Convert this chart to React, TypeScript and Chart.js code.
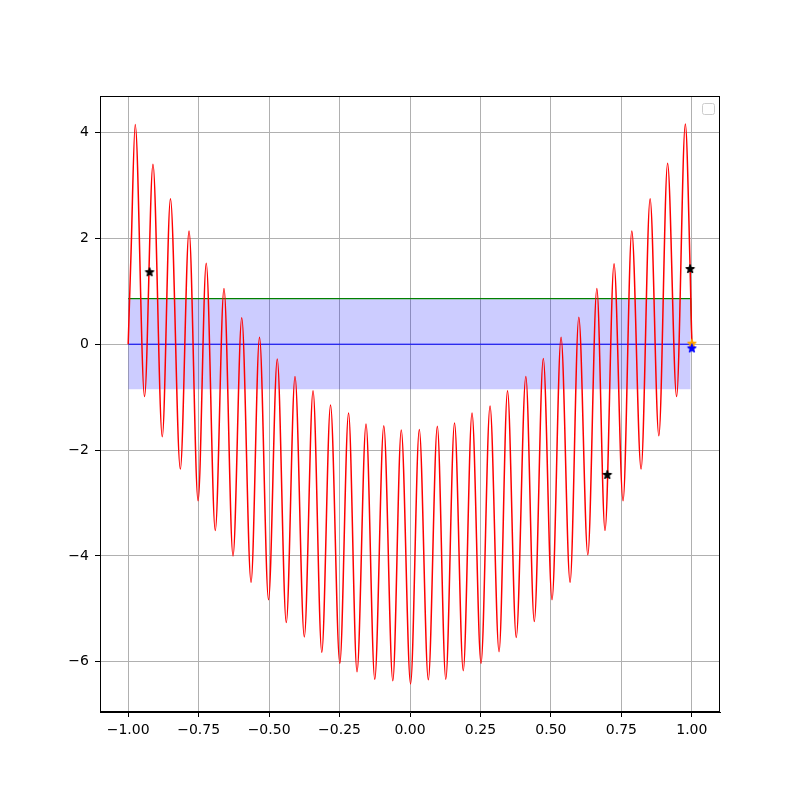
import React, { useEffect, useRef } from "react";
import { Chart, registerables } from "chart.js";
Chart.register(...registerables);

// Red oscillating curve: extrema (plus end points)
const redX = [
  -1.0, -0.99, -0.975, -0.942, -0.912, -0.879, -0.85, -0.815, -0.784, -0.752, -0.723,
  -0.691, -0.66, -0.628, -0.597, -0.564, -0.534, -0.502, -0.471, -0.439, -0.408,
  -0.375, -0.344, -0.313, -0.282, -0.249, -0.218, -0.188, -0.156, -0.125, -0.093,
  -0.061, -0.031, 0.002, 0.033, 0.065, 0.097, 0.127, 0.158, 0.189, 0.22,
  0.252, 0.284, 0.316, 0.346, 0.377, 0.411, 0.441, 0.473, 0.504, 0.536,
  0.568, 0.599, 0.631, 0.663, 0.692, 0.724, 0.756, 0.787, 0.82, 0.852,
  0.883, 0.914, 0.946, 0.977, 0.994, 1.0,
];
const redY = [
  0.0, 1.7, 4.15, -0.99, 3.4, -1.75, 2.75, -2.36, 2.14, -2.96, 1.53,
  -3.52, 1.05, -4.0, 0.5, -4.5, 0.13, -4.83, -0.28, -5.26, -0.61,
  -5.53, -0.88, -5.82, -1.15, -6.03, -1.3, -6.19, -1.51, -6.33, -1.54,
  -6.36, -1.62, -6.42, -1.61, -6.34, -1.55, -6.33, -1.49, -6.17, -1.3,
  -6.03, -1.17, -5.81, -0.88, -5.54, -0.61, -5.24, -0.27, -4.83, 0.13,
  -4.5, 0.51, -3.98, 1.05, -3.52, 1.52, -2.96, 2.14, -2.36, 2.75,
  -1.73, 3.42, -0.99, 4.16, 1.42, 0.0,
];

// Green step line
const greenX = [-1.0, 0.996, 1.0];
const greenY = [0.86, 0.86, 0.0];

// Blue band (fill between)
const bandX = [-1.0, 0.996];
const bandUpper = [0.85, 0.85];
const bandLower = [-0.85, -0.85];

// Blue zero line
const zeroX = [-1.0, 1.0];
const zeroY = [0.0, 0.0];

// Star markers
const blackStarX = [-0.924, 0.7, 0.994];
const blackStarY = [1.36, -2.47, 1.42];
const orangeStarX = [1.0];
const orangeStarY = [0.01];
const blueStarX = [1.0];
const blueStarY = [-0.08];

// Ticks
const xTicks = [-1.0, -0.75, -0.5, -0.25, 0.0, 0.25, 0.5, 0.75, 1.0];
const yTicks = [-6, -4, -2, 0, 2, 4];

const pts = (xs: number[], ys: number[]) => xs.map((x, i) => ({ x, y: ys[i] }));
const fmt = (v: number, d: number) => {
  const s = Number(v).toFixed(d);
  return s.startsWith("-") ? "\u2212" + s.slice(1) : s;
};

function makeStar(color: string): HTMLCanvasElement {
  const c = document.createElement("canvas");
  c.width = 14;
  c.height = 14;
  const g = c.getContext("2d")!;
  const R = 4.17;
  const r = R * 0.381966;
  g.beginPath();
  for (let i = 0; i < 10; i++) {
    const a = -Math.PI / 2 + (i * Math.PI) / 5;
    const rr = i % 2 === 0 ? R : r;
    const px = 7 + rr * Math.cos(a);
    const py = 7 + rr * Math.sin(a);
    if (i === 0) g.moveTo(px, py);
    else g.lineTo(px, py);
  }
  g.closePath();
  g.fillStyle = color;
  g.strokeStyle = color;
  g.lineWidth = 1.39;
  g.lineJoin = "round";
  g.fill();
  g.stroke();
  return c;
}

export default function App() {
  const ref = useRef<HTMLCanvasElement | null>(null);

  useEffect(() => {
    document.body.style.margin = "0";
    const canvas = ref.current;
    if (!canvas) return;

    const allY = [...redY, ...greenY, ...bandUpper, ...bandLower, ...zeroY, ...blackStarY, ...orangeStarY, ...blueStarY];
    const yLo = Math.min(...allY);
    const yHi = Math.max(...allY);
    const yPad = (yHi - yLo) * 0.05;
    const allX = [...redX, ...zeroX];
    const xLo = Math.min(...allX);
    const xHi = Math.max(...allX);
    const xPad = (xHi - xLo) * 0.05;

    const font = { family: "'DejaVu Sans', sans-serif", size: 14 };

    const framePlugin = {
      id: "frame",
      afterDraw(chart: any) {
        const { ctx, chartArea: a } = chart;
        ctx.save();
        ctx.strokeStyle = "black";
        ctx.lineWidth = 1;
        const l = Math.round(a.left) + 0.5;
        const t = Math.round(a.top) + 0.5;
        const r = Math.round(a.right) - 0.5;
        const b = Math.round(a.bottom) - 0.5;
        ctx.strokeRect(l, t, r - l, b - t);
        // empty legend frame (top right)
        const lx = 702.5, ly = 103.5, lw = 12, lh = 11, rad = 2;
        ctx.beginPath();
        ctx.moveTo(lx + rad, ly);
        ctx.lineTo(lx + lw - rad, ly);
        ctx.quadraticCurveTo(lx + lw, ly, lx + lw, ly + rad);
        ctx.lineTo(lx + lw, ly + lh - rad);
        ctx.quadraticCurveTo(lx + lw, ly + lh, lx + lw - rad, ly + lh);
        ctx.lineTo(lx + rad, ly + lh);
        ctx.quadraticCurveTo(lx, ly + lh, lx, ly + lh - rad);
        ctx.lineTo(lx, ly + rad);
        ctx.quadraticCurveTo(lx, ly, lx + rad, ly);
        ctx.closePath();
        ctx.fillStyle = "rgba(255,255,255,0.8)";
        ctx.fill();
        ctx.strokeStyle = "#cccccc";
        ctx.stroke();
        ctx.restore();
      },
    };

    const chart = new Chart(canvas, {
      type: "line",
      data: {
        datasets: [
          {
            data: pts(blueStarX, blueStarY),
            showLine: false,
            pointStyle: makeStar("blue"),
            pointRadius: 4,
            order: 0,
          },
          {
            data: pts(orangeStarX, orangeStarY),
            showLine: false,
            pointStyle: makeStar("orange"),
            pointRadius: 4,
            order: 1,
          },
          {
            data: pts(blackStarX, blackStarY),
            showLine: false,
            pointStyle: makeStar("black"),
            pointRadius: 4,
            order: 2,
          },
          {
            data: pts(redX, redY),
            borderColor: "red",
            borderWidth: 1.5,
            pointRadius: 0,
            cubicInterpolationMode: "monotone",
            fill: false,
            order: 3,
          },
          {
            data: pts(zeroX, zeroY),
            borderColor: "blue",
            borderWidth: 1,
            pointRadius: 0,
            fill: false,
            order: 4,
          },
          {
            data: pts(greenX, greenY),
            borderColor: "green",
            borderWidth: 1.1,
            pointRadius: 0,
            fill: false,
            order: 5,
          },
          {
            data: pts(bandX, bandUpper),
            borderWidth: 0,
            borderColor: "rgba(0,0,0,0)",
            backgroundColor: "rgba(0,0,255,0.2)",
            pointRadius: 0,
            fill: "+1",
            order: 6,
          },
          {
            data: pts(bandX, bandLower),
            borderWidth: 0,
            borderColor: "rgba(0,0,0,0)",
            pointRadius: 0,
            fill: false,
            order: 7,
          },
        ],
      },
      options: {
        responsive: false,
        animation: false,
        devicePixelRatio: 1,
        layout: { padding: { left: 0, top: 96, right: 80, bottom: 0 } },
        plugins: {
          legend: { display: false },
          tooltip: { enabled: false },
        },
        scales: {
          x: {
            type: "linear",
            min: xLo - xPad,
            max: xHi + xPad,
            afterBuildTicks: (s: any) => {
              s.ticks = xTicks.map((v) => ({ value: v }));
            },
            afterFit: (s: any) => {
              s.height = 88;
            },
            ticks: {
              callback: (v: any) => fmt(v, 2),
              font,
              color: "black",
              padding: 5,
              maxRotation: 0,
              autoSkip: false,
            },
            grid: {
              color: "#b0b0b0",
              lineWidth: 1,
              tickLength: 5,
              tickColor: "black",
              tickWidth: 1,
            },
            border: { display: true, color: "black", width: 1 },
          },
          y: {
            type: "linear",
            min: yLo - yPad,
            max: yHi + yPad,
            afterBuildTicks: (s: any) => {
              s.ticks = yTicks.map((v) => ({ value: v }));
            },
            afterFit: (s: any) => {
              s.width = 100;
            },
            ticks: {
              callback: (v: any) => fmt(v, 0),
              font,
              color: "black",
              padding: 6,
              autoSkip: false,
            },
            grid: {
              color: "#b0b0b0",
              lineWidth: 1,
              tickLength: 5,
              tickColor: "black",
              tickWidth: 1,
            },
            border: { display: true, color: "black", width: 1 },
          },
        },
      },
      plugins: [framePlugin],
    } as any);

    return () => chart.destroy();
  }, []);

  return (
    <div style={{ position: "absolute", left: 0, top: 0, width: 800, height: 800, background: "white" }}>
      <canvas ref={ref} width={800} height={800} style={{ display: "block" }} />
    </div>
  );
}
